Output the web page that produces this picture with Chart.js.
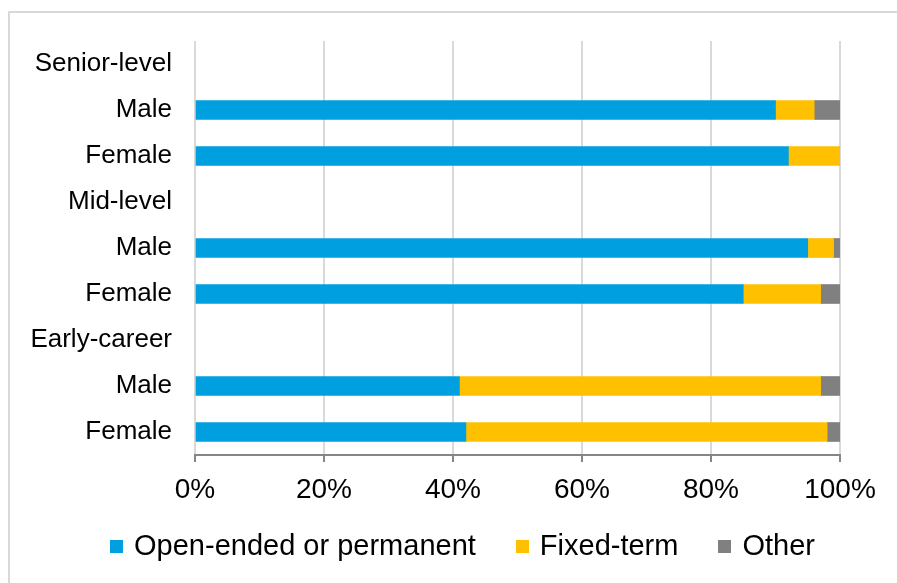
<!DOCTYPE html>
<html>
<head>
<meta charset="utf-8">
<script src="https://cdn.jsdelivr.net/npm/chart.js@4/dist/chart.umd.min.js"></script>
<style>
  html, body { margin: 0; padding: 0; background: #fff; overflow: hidden; }
  body { width: 897px; height: 583px; position: relative; font-family: "Liberation Sans", Arial, sans-serif; }
  #frame { position: absolute; left: 8px; top: 11px; width: 900px; height: 600px; border: 2px solid #d9d9d9; box-sizing: border-box; }
  #wrap { position: absolute; left: 0; top: 0; width: 897px; height: 583px; }
  #legend { position: absolute; top: 529px; left: 0; width: 925px; display: flex; justify-content: center; align-items: center; font-size: 29px; color: #000; }
  .item { display: flex; align-items: center; margin: 0 20px; white-space: nowrap; }
  .box { width: 13px; height: 13px; margin-right: 11px; margin-top: 1px; }
</style>
</head>
<body>
<div id="frame"></div>
<div id="wrap"><canvas id="c" width="897" height="583"></canvas></div>
<div id="legend"></div>
<script>
// Rows of the chart: group headers carry no bars
const categories = ["Senior-level", "Male", "Female", "Mid-level", "Male", "Female", "Early-career", "Male", "Female"];

// Share of staff by contract type (%)
const openEnded = [null, 90, 92, null, 95, 85, null, 41, 42];
const fixedTerm = [null, 6, 8, null, 4, 12, null, 56, 56];
const other     = [null, 4, 0, null, 1, 3, null, 3, 2];

const seriesNames = ["Open-ended or permanent", "Fixed-term", "Other"];
const seriesColors = ["#009fdf", "#ffc000", "#808080"];

const xTicks = [0, 20, 40, 60, 80, 100];

const seriesData = [openEnded, fixedTerm, other];

const chart = new Chart(document.getElementById("c"), {
  type: "bar",
  data: {
    labels: categories,
    datasets: seriesNames.map((name, i) => ({
      label: name,
      data: seriesData[i],
      backgroundColor: seriesColors[i],
      borderWidth: 0,
      barThickness: 19
    }))
  },
  options: {
    indexAxis: "y",
    responsive: false,
    animation: false,
    layout: { padding: { top: 41, right: 57, left: 0, bottom: 0 } },
    plugins: {
      legend: { display: false },
      tooltip: { enabled: false }
    },
    scales: {
      x: {
        stacked: true,
        min: 0,
        max: 100,
        afterBuildTicks: (scale) => { scale.ticks = xTicks.map(v => ({ value: v })); },
        afterFit: (scale) => { scale.height = 128; },
        ticks: {
          callback: (v) => v + "%",
          color: "#000",
          font: { family: "'Liberation Sans', Arial, sans-serif", size: 28 },
          padding: 11,
          maxRotation: 0
        },
        grid: {
          color: "#d9d9d9",
          lineWidth: 2,
          tickColor: "#868686",
          tickLength: 7
        },
        border: { color: "#868686", width: 2 }
      },
      y: {
        stacked: true,
        afterFit: (scale) => { scale.width = 195; },
        ticks: {
          color: "#000",
          font: { family: "'Liberation Sans', Arial, sans-serif", size: 26 },
          padding: 23,
          autoSkip: false
        },
        grid: { display: false, drawTicks: false },
        border: { display: false }
      }
    }
  }
});

// Legend below the plot
const legend = document.getElementById("legend");
seriesNames.forEach((name, i) => {
  const item = document.createElement("div");
  item.className = "item";
  const box = document.createElement("span");
  box.className = "box";
  box.style.background = seriesColors[i];
  const text = document.createElement("span");
  text.textContent = name;
  item.appendChild(box);
  item.appendChild(text);
  legend.appendChild(item);
});
</script>
</body>
</html>
